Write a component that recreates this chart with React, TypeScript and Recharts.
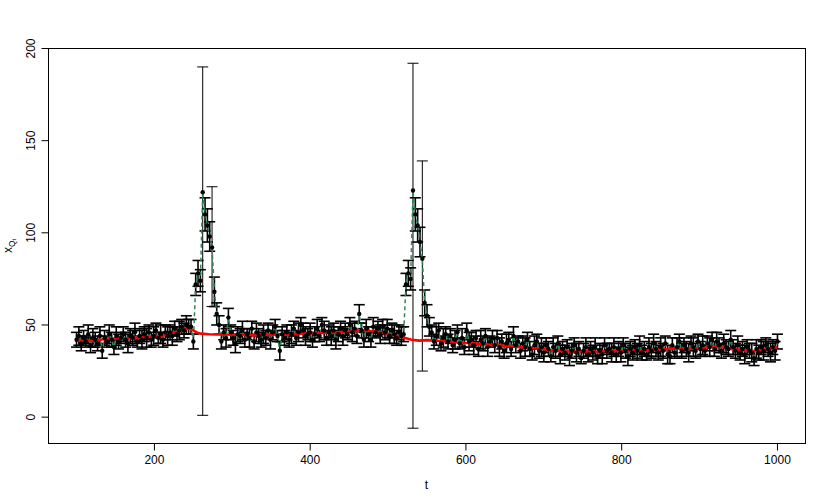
import React from 'react';
import { ComposedChart, Line, XAxis, YAxis, ErrorBar } from 'recharts';

// Sampling times: t = 100, 103, ..., 1000
const T_START = 100;
const T_STEP = 3;

// Estimated x_{Q_t} (black points, green dashed line)
const estimates: number[] = [
  42, 44, 40, 43, 41, 45, 39, 43, 42, 40,
  44, 36, 43, 41, 45, 42, 38, 44, 41, 43,
  45, 42, 40, 44, 43, 46, 41, 44, 42, 45,
  43, 46, 42, 44, 47, 43, 45, 42, 46, 44,
  46, 44, 48, 45, 47, 49, 47, 50, 49, 49,
  41, 72, 78, 74, 122, 110, 104, 98, 92, 68,
  56, 50, 41, 46, 43, 54, 46, 43, 40, 45,
  44, 47, 42, 45, 43, 48, 41, 46, 44, 42,
  45, 43, 47, 42, 46, 49, 44, 36, 45, 43,
  46, 42, 45, 48, 43, 46, 50, 47, 44, 45,
  46, 42, 45, 48, 44, 50, 47, 43, 46, 44,
  47, 42, 45, 48, 44, 47, 45, 50, 46, 48,
  44, 56, 47, 42, 48, 45, 42, 49, 46, 48,
  45, 49, 46, 48, 44, 47, 45, 43, 46, 44,
  45, 72, 78, 75, 123, 110, 104, 95, 86, 62,
  55, 49, 46, 41, 44, 47, 40, 43, 45, 41,
  44, 39, 42, 46, 40, 43, 38, 47, 41, 42,
  39, 43, 37, 42, 40, 44, 38, 41, 43, 39,
  43, 38, 41, 36, 40, 42, 37, 44, 39, 41,
  36, 40, 38, 42, 37, 34, 39, 41, 36, 38,
  35, 39, 37, 33, 38, 36, 40, 34, 37, 35,
  38, 33, 36, 39, 35, 37, 32, 36, 38, 34,
  37, 35, 38, 33, 36, 34, 39, 36, 37, 35,
  38, 34, 37, 35, 39, 36, 33, 37, 35, 38,
  36, 39, 35, 37, 34, 38, 36, 40, 37, 35,
  38, 36, 40, 34, 33, 39, 35, 38, 41, 36,
  39, 37, 35, 40, 38, 36, 41, 37, 39, 36,
  40, 38, 42, 37, 41, 39, 36, 40, 38, 37,
  42, 38, 36, 39, 35, 37, 34, 38, 36, 35,
  32, 37, 35, 38, 36, 39, 37, 35, 38, 36, 41,
];

// Half-width of each confidence interval
const ciHalf: number[] = [
  4, 5, 4, 4, 3, 5, 4, 5, 4, 4,
  5, 4, 4, 3, 5, 4, 4, 5, 4, 3,
  4, 4, 5, 4, 4, 5, 3, 4, 5, 4,
  5, 4, 4, 5, 4, 3, 5, 4, 4, 5,
  4, 5, 4, 4, 5, 4, 4, 5, 4, 4,
  4, 6, 7, 6, 0, 9, 9, 8, 0, 8,
  6, 5, 4, 4, 5, 5, 4, 4, 5, 4,
  4, 5, 4, 3, 5, 4, 4, 5, 4, 4,
  5, 4, 4, 5, 4, 4, 3, 5, 4, 4,
  4, 4, 5, 4, 4, 5, 4, 4, 5, 3,
  5, 4, 4, 5, 3, 4, 5, 4, 4, 5,
  4, 5, 4, 4, 5, 4, 3, 4, 5, 4,
  4, 5, 4, 4, 5, 4, 4, 5, 3, 4,
  5, 4, 4, 5, 4, 4, 5, 4, 4, 5,
  4, 6, 7, 6, 0, 9, 9, 8, 0, 7,
  6, 5, 4, 4, 5, 4, 4, 5, 4, 4,
  4, 4, 5, 4, 3, 5, 4, 4, 5, 4,
  5, 4, 4, 5, 4, 4, 5, 3, 4, 4,
  4, 5, 4, 4, 5, 4, 4, 5, 4, 3,
  4, 4, 5, 4, 4, 3, 5, 4, 4, 5,
  5, 4, 4, 3, 5, 4, 4, 5, 4, 4,
  4, 5, 4, 4, 5, 4, 3, 4, 5, 4,
  4, 4, 5, 4, 4, 5, 4, 4, 3, 5,
  5, 4, 4, 5, 4, 4, 5, 4, 4, 4,
  4, 5, 4, 4, 3, 5, 4, 5, 4, 4,
  5, 4, 4, 5, 4, 4, 3, 5, 4, 4,
  4, 4, 5, 4, 5, 4, 4, 4, 5, 3,
  4, 5, 4, 4, 5, 4, 4, 5, 4, 4,
  5, 4, 4, 5, 4, 4, 5, 4, 4, 5,
  4, 5, 4, 4, 5, 4, 4, 5, 4, 5, 4,
];

// Very wide intervals at the two jumps
const wideT = [262, 274, 532, 544];
const wideLow = [1, 60, -6, 25];
const wideHigh = [190, 125, 192, 139];

// True value (red line)
const trueT = [
  100, 110, 120, 130, 140, 150, 160, 170, 180, 190, 200, 210, 220, 230, 240, 245, 250, 255, 260,
  270, 280, 290, 300, 310, 320, 330, 340, 350, 360, 370, 380, 390, 400, 410, 420, 430, 440, 450,
  460, 470, 480, 490, 500, 510, 520, 530, 540, 550, 560, 570, 580, 590, 600, 610, 620, 630, 640,
  650, 660, 670, 680, 690, 700, 710, 720, 730, 740, 750, 760, 770, 780, 790, 800, 810, 820, 830,
  840, 850, 860, 870, 880, 890, 900, 910, 920, 930, 940, 950, 960, 970, 980, 990, 1000,
];
const trueV = [
  41.5, 41.8, 41.3, 42.0, 42.4, 42.8, 42.5, 43.0, 43.2, 43.5, 43.8, 44.2, 45.5, 46.3, 47.5, 48.0, 47.0, 45.8, 45.3,
  45.0, 44.8, 45.0, 44.6, 44.9, 44.5, 44.3, 44.8, 44.6, 45.0, 44.7, 45.2, 45.3, 45.6, 45.4, 45.8, 45.9, 46.2, 46.5,
  46.8, 47.0, 46.6, 46.0, 45.2, 44.3, 43.2, 42.0, 41.5, 41.8, 41.6, 41.2, 40.8, 40.5, 40.2, 40.0, 39.6, 39.3, 39.0,
  38.8, 38.4, 38.0, 37.5, 37.2, 36.8, 36.2, 35.8, 35.6, 35.5, 35.8, 35.4, 35.6, 35.9, 36.0, 35.8, 36.1, 36.3, 36.0,
  36.5, 36.8, 37.0, 37.2, 37.0, 37.3, 37.2, 37.8, 38.3, 38.0, 37.0, 36.5, 36.0, 35.8, 36.4, 37.2, 38.0,
];

const xTicks = [200, 400, 600, 800, 1000];
const yTicks = [0, 50, 100, 150, 200];

const data = estimates.map((y, i) => {
  const t = T_START + T_STEP * i;
  const isWide = wideT.indexOf(t) >= 0;
  return { t, y, err: isWide ? null : [ciHalf[i], ciHalf[i]] };
});
const wideData = wideT.map((t, k) => {
  const y = estimates[(t - T_START) / T_STEP];
  return { t, y, errW: [y - wideLow[k], wideHigh[k] - y] };
});
const trueData = trueT.map((t, i) => ({ t, v: trueV[i] }));

const FONT = '"Liberation Sans", Arial, Helvetica, sans-serif';

const XTick = (props: any) => {
  const { x, payload } = props;
  return (
    <text x={x} y={464} textAnchor="middle" fontSize={12} fontFamily={FONT} fill="#000">
      {payload.value}
    </text>
  );
};

const YTick = (props: any) => {
  const { y, payload } = props;
  const bx = 35;
  return (
    <text
      x={bx}
      y={y}
      transform={`rotate(-90, ${bx}, ${y})`}
      textAnchor="middle"
      fontSize={12}
      fontFamily={FONT}
      fill="#000"
    >
      {payload.value}
    </text>
  );
};

export default function App() {
  return (
    <div style={{ position: 'absolute', left: 0, top: 0, width: 830, height: 504, background: '#fff' }}>
      <ComposedChart
        width={830}
        height={504}
        data={data}
        margin={{ top: 48.5, right: 24.5, bottom: 0, left: 0 }}
      >
        <XAxis
          dataKey="t"
          type="number"
          domain={[64, 1036]}
          allowDataOverflow
          ticks={xTicks}
          tick={<XTick />}
          tickSize={7}
          tickLine={{ stroke: '#000' }}
          axisLine={false}
          height={60.5}
          interval={0}
        />
        <YAxis
          type="number"
          domain={[-14.3, 200]}
          allowDataOverflow
          ticks={yTicks}
          tick={<YTick />}
          tickSize={7}
          tickLine={{ stroke: '#000' }}
          axisLine={false}
          width={48.5}
          interval={0}
        />
        <Line
          data={wideData}
          dataKey="y"
          stroke="none"
          dot={false}
          isAnimationActive={false}
        >
          <ErrorBar dataKey="errW" width={5.5} stroke="#000" strokeWidth={1} direction="y" />
        </Line>
        <Line
          dataKey="y"
          stroke="none"
          dot={{ r: 2.2, fill: '#000', stroke: 'none' }}
          isAnimationActive={false}
        >
          <ErrorBar dataKey="err" width={5.5} stroke="#000" strokeWidth={1.6} direction="y" />
        </Line>
        <Line
          dataKey="y"
          type="linear"
          stroke="#2E8B57"
          strokeWidth={1.5}
          strokeDasharray="4 3"
          dot={false}
          isAnimationActive={false}
        />
        <Line
          data={trueData}
          dataKey="v"
          type="linear"
          stroke="#FF0000"
          strokeWidth={2.6}
          dot={false}
          isAnimationActive={false}
        />
      </ComposedChart>
      <svg
        width={830}
        height={504}
        style={{ position: 'absolute', left: 0, top: 0, pointerEvents: 'none' }}
      >
        <rect x={48.5} y={48.5} width={757} height={395} fill="none" stroke="#000" strokeWidth={1} />
        <text x={426.5} y={489} textAnchor="middle" fontSize={12} fontFamily={FONT} fill="#000">
          t
        </text>
        <text transform="rotate(-90)" x={-246} y={12} textAnchor="middle" fontSize={12} fontFamily={FONT} fill="#000">
          x
          <tspan fontSize={8.4} dy={2.5}>Q</tspan>
          <tspan fontSize={5.9} dy={1.8}>t</tspan>
        </text>
      </svg>
    </div>
  );
}
